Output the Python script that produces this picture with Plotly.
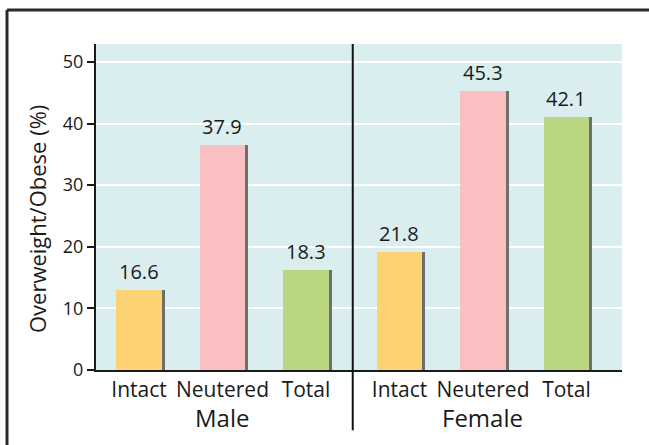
import plotly.graph_objects as go

# Data
groups = ["Male", "Female"]
categories = ["Intact", "Neutered", "Total", "Intact", "Neutered", "Total"]
positions = [0, 1, 2, 3.12, 4.12, 5.12]
bar_heights = [13.0, 36.5, 16.2, 19.2, 45.2, 41.0]   # drawn bar heights as shown
value_labels = ["16.6", "37.9", "18.3", "21.8", "45.3", "42.1"]
bar_colors = ["#fdd273", "#f9bfc1", "#b8d780", "#fdd273", "#f9bfc1", "#b8d780"]
y_ticks = [0, 10, 20, 30, 40, 50]

FONT = "Open Sans"
bar_w = 0.54
shadow_dx = 0.036

fig = go.Figure()
# shadow
fig.add_trace(go.Bar(
    x=[p + shadow_dx for p in positions], y=bar_heights, width=bar_w,
    marker=dict(color="#6e706c", line=dict(width=0)), hoverinfo="skip", showlegend=False))
fig.add_trace(go.Bar(
    x=positions, y=bar_heights, width=bar_w,
    marker=dict(color=bar_colors, line=dict(width=0)), showlegend=False))

for p, h, t in zip(positions, bar_heights, value_labels):
    fig.add_annotation(x=p, y=h, text=t, showarrow=False, yanchor="bottom", yshift=3,
                       font=dict(family=FONT, size=20, color="#1a1a1a"))

# group labels
for gi, g in enumerate(groups):
    fig.add_annotation(x=positions[gi * 3 + 1], y=0, yref="paper", text=g, showarrow=False,
                       yanchor="middle", yshift=-47, font=dict(family=FONT, size=24, color="#1a1a1a"))

# y title
fig.add_annotation(xref="paper", yref="paper", x=0, y=0.463, xshift=-59, xanchor="center",
                   yanchor="middle", text="Overweight/Obese (%)",
                   textangle=-90, showarrow=False, font=dict(family=FONT, size=22, color="#1a1a1a"))

fx = (7 - 96) / 526
fy = (370 - 10) / 326
shapes = [
    # divider
    dict(type="line", xref="x", yref="paper", x0=(positions[2] + positions[3]) / 2,
         x1=(positions[2] + positions[3]) / 2, y0=1.0, y1=-0.185,
         line=dict(color="#111111", width=2)),
    # outer frame (top and left edges)
    dict(type="line", xref="paper", yref="paper", x0=fx, x1=1.1, y0=fy, y1=fy,
         line=dict(color="#2a2a2a", width=3)),
    dict(type="line", xref="paper", yref="paper", x0=fx, x1=fx, y0=fy, y1=-0.4,
         line=dict(color="#2a2a2a", width=3)),
]

fig.update_layout(
    width=649, height=445,
    margin=dict(l=96, r=27, t=44, b=75),
    paper_bgcolor="white", plot_bgcolor="#daeef0",
    barmode="overlay", bargap=0,
    shapes=shapes,
    font=dict(family=FONT, color="#1a1a1a"),
    xaxis=dict(range=[-0.515, 5.785], tickvals=positions, ticktext=categories,
               showgrid=False, zeroline=False, showline=True, linecolor="#1a1a1a", linewidth=2,
               ticks="", tickfont=dict(family=FONT, size=21, color="#1a1a1a"), fixedrange=True),
    yaxis=dict(range=[0, 52.9], tickvals=y_ticks, showgrid=True, gridcolor="white", gridwidth=2,
               zeroline=False, showline=True, linecolor="#1a1a1a", linewidth=2,
               ticks="outside", ticklen=7, tickwidth=2, tickcolor="#1a1a1a",
               tickfont=dict(family=FONT, size=18, color="#1a1a1a"), fixedrange=True),
)

fig.write_html("out.html", config={"displayModeBar": False},
               post_script="document.body.style.margin='0';document.body.style.overflow='hidden';")
